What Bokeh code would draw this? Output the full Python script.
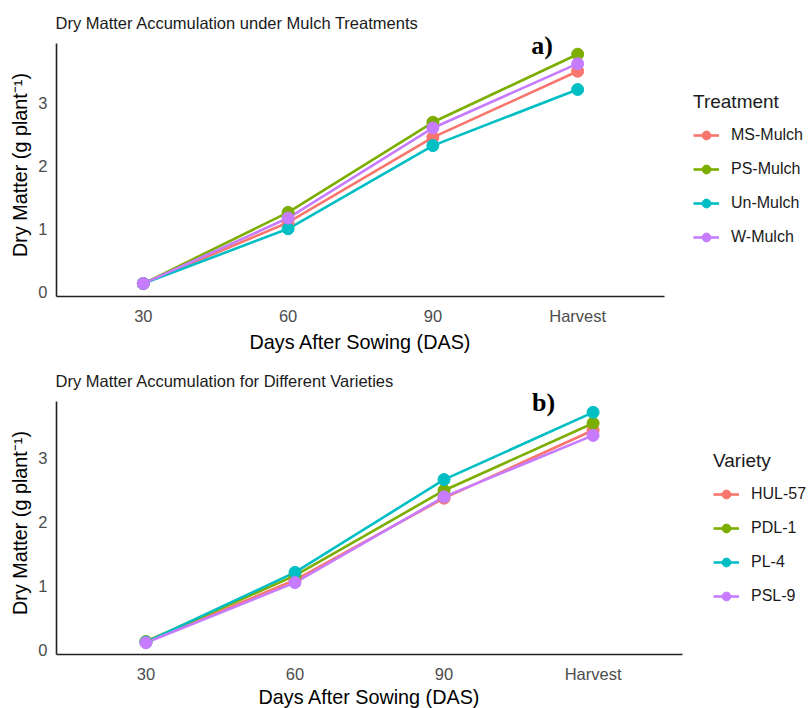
from bokeh.plotting import figure
from bokeh.models import Range1d, FixedTicker, Legend, LegendItem, Label
from bokeh.layouts import column
from bokeh.embed import file_html
from bokeh.resources import INLINE

stages = ["30", "60", "90", "Harvest"]

treatments = ["MS-Mulch", "PS-Mulch", "Un-Mulch", "W-Mulch"]
ms_mulch = [0.14, 1.11, 2.46, 3.51]
ps_mulch = [0.14, 1.27, 2.70, 3.78]
un_mulch = [0.14, 1.01, 2.33, 3.22]
w_mulch = [0.14, 1.18, 2.61, 3.63]

varieties = ["HUL-57", "PDL-1", "PL-4", "PSL-9"]
hul_57 = [0.13, 1.10, 2.38, 3.44]
pdl_1 = [0.14, 1.17, 2.50, 3.55]
pl_4 = [0.13, 1.22, 2.67, 3.72]
psl_9 = [0.12, 1.06, 2.40, 3.36]

colors = ["#F8766D", "#7CAE00", "#00BFC4", "#C77CFF"]
FONT = "Liberation Sans"


def make_panel(title, series, names, legend_title, frame_w, top, bottom,
               ymin, yaxis_top, ymax, leg_loc, tag, tag_xy, xlab_standoff):
    xs = list(range(1, len(stages) + 1))
    right = 808 - 56 - frame_w
    p = figure(width=808, height=top + 263 + bottom,
               frame_width=frame_w, frame_height=263,
               x_range=Range1d(0.4, 4.6), y_range=Range1d(ymin, ymax),
               output_backend="svg", toolbar_location=None,
               min_border_left=56, min_border_right=right,
               min_border_top=top, min_border_bottom=bottom)
    p.title.text = title
    p.title.text_font = FONT
    p.title.text_font_size = "16.5px"
    p.title.text_font_style = "normal"
    p.title.text_color = "#1a1a1a"
    p.title.offset = -1
    p.title.standoff = 4
    p.outline_line_color = None
    p.xgrid.visible = False
    p.ygrid.visible = False
    p.background_fill_color = "white"

    for ax in (p.xaxis[0], p.yaxis[0]):
        ax.axis_line_color = "#222222"
        ax.axis_line_width = 1.6
        ax.major_tick_out = 0
        ax.major_tick_in = 0
        ax.minor_tick_out = 0
        ax.minor_tick_in = 0
        ax.major_label_text_font = FONT
        ax.major_label_text_font_size = "16.5px"
        ax.major_label_text_color = "#4D4D4D"
        ax.axis_label_text_font = FONT
        ax.axis_label_text_font_size = "19.8px"
        ax.axis_label_text_font_style = "normal"
        ax.axis_label_text_color = "black"

    p.xaxis.ticker = FixedTicker(ticks=xs)
    p.xaxis.major_label_overrides = {i: s for i, s in zip(xs, stages)}
    p.xaxis.axis_label = "Days After Sowing (DAS)"
    p.xaxis.major_label_standoff = 10
    p.xaxis.axis_label_standoff = xlab_standoff
    p.yaxis.ticker = FixedTicker(ticks=[0, 1, 2, 3])
    p.yaxis.bounds = (ymin, yaxis_top)
    p.yaxis.axis_label = "Dry Matter (g plant\u207b\u00b9)"
    p.yaxis.major_label_standoff = 9
    p.yaxis.axis_label_standoff = 4

    items = []
    renderers = []
    for vals, name, c in zip(series, names, colors):
        r = p.line(xs, vals, line_color=c, line_width=2.6)
        renderers.append((r, name, c, vals))
    for r, name, c, vals in renderers:
        s = p.scatter(xs, vals, marker="circle", size=12, fill_color=c,
                      line_color=c)
        items.append(LegendItem(label=name, renderers=[r, s]))

    leg = Legend(items=items, location=leg_loc, title=legend_title)
    leg.title_text_font = FONT
    leg.title_text_font_size = "19px"
    leg.title_text_font_style = "normal"
    leg.title_text_color = "#1a1a1a"
    leg.label_text_font = FONT
    leg.label_text_font_size = "16px"
    leg.label_text_color = "#1a1a1a"
    leg.glyph_width = 26
    leg.glyph_height = 22
    leg.label_height = 22
    leg.label_standoff = 12
    leg.spacing = 12
    leg.padding = 0
    leg.margin = 0
    leg.title_standoff = 11
    leg.border_line_color = None
    leg.background_fill_alpha = 0
    p.add_layout(leg, "right")

    lab = Label(x=tag_xy[0], y=tag_xy[1], text=tag, text_font="Liberation Serif",
                text_font_style="bold", text_font_size="26px",
                text_baseline="middle", text_align="left", text_color="black")
    p.add_layout(lab)
    return p


p1 = make_panel("Dry Matter Accumulation under Mulch Treatments",
                [ms_mulch, ps_mulch, un_mulch, w_mulch], treatments,
                "Treatment", 608, 33, 59, -0.065, 3.95, 4.109, (29, 48), "a)",
                (3.68, 3.92), 3)
p2 = make_panel("Dry Matter Accumulation for Different Varieties",
                [hul_57, pdl_1, pl_4, psl_9], varieties,
                "Variety", 626, 36, 54, -0.063, 3.89, 4.046, (31, 47), "b)",
                (3.59, 3.88), 0)

layout = column(p1, p2, spacing=0)
open("out.html", "w").write(file_html(layout, INLINE))
